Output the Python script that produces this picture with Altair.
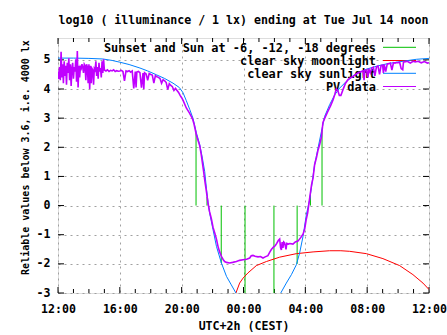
import altair as alt
import pandas as pd

FONT = "DejaVu Sans Mono"
FS = 11.6

title_text = "log10 ( illuminance / 1 lx) ending at Tue Jul 14 noon"
x_title = "UTC+2h (CEST)"
y_title = "Reliable values below 3.6, i.e. 4000 lx"

legend_labels = ["Sunset and Sun at -6, -12, -18 degrees", "clear sky moonlight",
                 "clear sky sunlight", "PV data"]
legend_colors = ["#00c000", "#ff0000", "#0080ff", "#c000ff"]

x_major = [12, 16, 20, 24, 28, 32, 36]
x_minor = [13, 14, 15, 17, 18, 19, 21, 22, 23, 25, 26, 27, 29, 30, 31, 33, 34, 35]
y_major = [-3, -2, -1, 0, 1, 2, 3, 4, 5]

# sunset and sun at -6, -12, -18 degrees (impulses from 0 to clear-sky value)
green_hours = [20.93, 21.64, 22.56, 24.10, 25.97, 27.47, 28.33, 29.08]
green_tops = [2.50, 0.30, -1.97, -3.0, -3.0, -2.0, 0.37, 2.60]

# clear sky sunlight, evening branch
sun_eve_h = [12.0, 13.0, 14.0, 14.9, 15.5, 16.0, 16.6, 17.3, 17.8, 18.36,
             18.9, 19.44, 19.85, 20.08, 20.3, 20.52, 20.73, 20.95, 21.17, 21.34,
             21.49, 21.6, 21.7, 21.81, 22.03, 22.25, 22.57, 22.9, 23.21, 23.51]
sun_eve_v = [5.06, 5.06, 5.05, 5.03, 4.98, 4.92, 4.84, 4.72, 4.62, 4.49,
             4.36, 4.20, 4.05, 3.88, 3.60, 3.30, 3.00, 2.50, 2.09, 1.63,
             1.17, 0.60, 0.14, -0.26, -0.83, -1.40, -1.97, -2.43, -2.72, -3.0]
# clear sky sunlight, morning branch
sun_mor_h = [26.41, 26.77, 27.1, 27.42, 27.63, 27.85, 28.07, 28.28, 28.39, 28.6,
             28.82, 29.04, 29.25, 29.57, 29.9, 30.22, 30.65, 31.3, 31.95, 32.6,
             33.24, 33.9, 34.54, 35.2, 36.0]
sun_mor_v = [-3.0, -2.66, -2.37, -2.03, -1.63, -1.06, -0.30, 0.20, 0.60, 1.40,
             1.97, 2.54, 3.06, 3.46, 3.80, 4.03, 4.26, 4.52, 4.68, 4.78,
             4.86, 4.92, 4.97, 5.02, 5.05]

# clear sky moonlight
moon_h = [23.51, 23.75, 23.97, 24.29, 24.83, 25.48, 26.34, 27.42, 28.5, 29.57,
          30.3, 30.87, 31.95, 33.02, 34.1, 34.96, 35.61, 36.0]
moon_v = [-3.0, -2.66, -2.49, -2.31, -2.06, -1.92, -1.77, -1.65, -1.59, -1.55,
          -1.55, -1.57, -1.65, -1.82, -2.06, -2.37, -2.66, -2.88]

# PV data
pv_h = [12.00, 12.05, 12.10, 12.15, 12.20, 12.25, 12.30, 12.35, 12.40, 12.45,
        12.50, 12.55, 12.60, 12.65, 12.70, 12.75, 12.80, 12.85, 12.90, 12.95,
        13.00, 13.05, 13.10, 13.15, 13.20, 13.25, 13.30, 13.35, 13.40, 13.45,
        13.50, 13.55, 13.60, 13.65, 13.70, 13.75, 13.80, 13.85, 13.90, 13.95,
        14.00, 14.05, 14.10, 14.15, 14.20, 14.25, 14.30, 14.35, 14.40, 14.45,
        14.50, 14.55, 14.60, 14.65, 14.70, 14.75, 14.80, 14.85, 14.90, 14.95,
        15.00,
        15.1, 15.2, 15.3, 15.4, 15.5, 15.6, 15.7, 15.8, 15.9, 16.0,
        16.1, 16.2, 16.3, 16.4, 16.5, 16.6, 16.7, 16.8, 16.9, 17.0,
        17.05, 17.1, 17.2, 17.3, 17.4, 17.5, 17.55, 17.6, 17.7, 17.8,
        17.9, 18.0, 18.1, 18.2, 18.3, 18.4, 18.5, 18.6, 18.7, 18.8,
        18.9, 19.0, 19.1, 19.2, 19.3, 19.4, 19.5, 19.6, 19.7, 19.8,
        19.9, 20.0,
        20.1, 20.3, 20.5, 20.7, 20.8, 20.95, 21.05, 21.17, 21.27, 21.42,
        21.5, 21.6, 21.7, 21.8, 21.92, 22.03, 22.14, 22.25, 22.35, 22.45,
        22.57, 22.68, 22.78, 22.9, 23.1, 23.3, 23.54, 23.75, 23.97, 24.2,
        24.4, 24.5, 24.61, 24.75, 24.94, 25.1, 25.26, 25.4, 25.58, 25.7,
        25.8, 25.95, 26.05, 26.15, 26.25, 26.34, 26.4, 26.45, 26.5, 26.55,
        26.6, 26.66, 26.75, 26.8, 26.9, 27.0, 27.2, 27.35, 27.52, 27.7,
        27.85, 27.96, 28.05, 28.15, 28.28, 28.4, 28.5, 28.6, 28.72, 28.82,
        28.93, 29.04, 29.14, 29.3, 29.47, 29.63, 29.79, 29.9, 30.0, 30.1,
        30.2, 30.3, 30.43, 30.6, 30.76, 30.9, 31.08, 31.25, 31.4, 31.55,
        31.73, 31.8, 31.85, 31.95, 32.05, 32.1, 32.2, 32.3, 32.4, 32.5,
        32.6, 32.7, 32.8, 32.9, 33.0, 33.05, 33.1, 33.2, 33.3, 33.4,
        33.5, 33.6, 33.7, 33.8, 33.9, 34.0, 34.1, 34.2, 34.3, 34.35,
        34.5, 34.6, 34.7, 34.8, 34.9, 35.0, 35.1, 35.3, 35.5, 35.7,
        35.9, 36.0]
pv_v = [4.60, 4.35, 4.75, 4.30, 5.28, 4.40, 4.85, 4.20, 4.95, 4.45,
        4.80, 4.15, 4.90, 4.55, 5.05, 4.30, 4.85, 4.10, 4.70, 4.90,
        4.35, 4.75, 4.60, 5.02, 4.25, 5.30, 4.05, 4.80, 4.40, 4.75,
        4.70, 4.85, 4.75, 4.55, 4.85, 4.80, 4.30, 4.85, 4.75, 4.20,
        4.85, 4.00, 4.80, 4.20, 4.70, 4.65, 4.15, 4.70, 4.65, 4.95,
        4.45, 4.75, 4.35, 4.90, 4.60, 4.72, 4.40, 4.95, 4.55, 5.02,
        4.65,
        4.62, 4.66, 4.60, 4.64, 4.62, 4.66, 4.60, 4.63, 4.61, 4.62,
        4.64, 4.60, 4.28, 4.62, 4.60, 4.63, 4.58, 4.62, 4.02, 4.60,
        4.05, 4.58, 4.60, 4.56, 4.05, 4.55, 4.00, 4.56, 4.52, 4.30,
        4.53, 4.50, 4.48, 4.20, 4.46, 4.42, 4.40, 4.36, 4.20, 4.32,
        4.28, 4.22, 3.98, 4.18, 4.12, 4.08, 3.95, 4.02, 3.95, 3.88,
        3.78, 3.70,
        3.60, 3.35, 3.18, 2.98, 2.80, 2.43, 2.25, 2.05, 1.74, 1.17,
        0.85, 0.49, 0.10, -0.20, -0.45, -0.75, -0.94, -1.15, -1.40, -1.58,
        -1.74, -1.85, -1.92, -1.95, -1.97, -1.95, -1.92, -1.88, -1.86, -1.84,
        -1.80, -1.72, -1.71, -1.74, -1.76, -1.75, -1.80, -1.76, -1.72, -1.60,
        -1.51, -1.42, -1.38, -1.30, -1.20, -1.15, -1.45, -1.52, -1.25, -1.45,
        -1.25, -1.28, -1.50, -1.30, -1.32, -1.30, -1.32, -1.25, -1.22, -1.10,
        -0.98, -0.80, -0.50, -0.25, 0.26, 0.70, 0.95, 1.40, 1.65, 1.90,
        2.10, 2.35, 2.85, 3.05, 3.25, 3.42, 3.62, 3.80, 4.00, 3.95,
        3.78, 3.78, 3.97, 4.20, 4.32, 4.38, 4.43, 4.50, 4.55, 4.58,
        4.62, 4.30, 4.64, 4.66, 4.40, 4.70, 4.55, 4.72, 4.75, 4.45,
        4.76, 4.79, 4.50, 4.81, 4.82, 4.55, 4.84, 4.60, 4.86, 4.87,
        4.89, 4.65, 4.90, 4.89, 4.91, 4.90, 4.92, 4.70, 4.66, 4.93,
        4.94, 4.95, 4.92, 4.89, 4.93, 4.95, 4.93, 4.95, 4.90, 4.94,
        4.89, 4.90]

W, H = 371, 255

sun_df = pd.DataFrame({
    "h": sun_eve_h + sun_mor_h,
    "v": sun_eve_v + sun_mor_v,
    "seg": ["eve"] * len(sun_eve_h) + ["mor"] * len(sun_mor_h),
})
moon_df = pd.DataFrame({"h": moon_h, "v": moon_v})
pv_df = pd.DataFrame({"h": pv_h, "v": pv_v})
green_df = pd.DataFrame({"h": green_hours, "v": [0.0] * len(green_hours), "v2": green_tops})

x_axis = alt.Axis(
    values=x_major, grid=True, gridDash=[2, 4], gridColor="#a0a0a0", gridWidth=1,
    ticks=False, domain=False, labelFlush=False, labelOverlap=False,
    labelExpr="(datum.value % 24 < 10 ? '0' : '') + (datum.value % 24) + ':00'",
    labelFont=FONT, labelFontSize=FS, labelFontWeight="bold", labelColor="black",
    labelPadding=10, title=x_title, titleFont=FONT, titleFontSize=FS,
    titleFontWeight="bold", titleColor="black", titleY=33, titleBaseline="middle",
)
y_axis = alt.Axis(
    values=y_major, grid=True, gridDash=[2, 4], gridColor="#a0a0a0", gridWidth=1,
    ticks=False, domain=False, labelExpr="'' + datum.value",
    labelFont=FONT, labelFontSize=FS, labelFontWeight="bold", labelColor="black",
    labelPadding=8, title=y_title, titleFont=FONT, titleFontSize=10,
    titleFontWeight="bold", titleColor="black", titleAngle=270, titleX=-33,
    titleY=119, titleBaseline="middle", titleAlign="center",
)
xs = alt.Scale(domain=[12, 36], nice=False, zero=False)
ys = alt.Scale(domain=[-3, 5.75], nice=False, zero=False)
X = alt.X("h:Q", scale=xs, axis=x_axis)
Y = alt.Y("v:Q", scale=ys, axis=y_axis)

layers = []

# inward tick marks on all four borders
xmaj_df = pd.DataFrame({"h": x_major})
xmin_df = pd.DataFrame({"h": x_minor})
ytk_df = pd.DataFrame({"v": y_major})
for df, ln in [(xmaj_df, 6), (xmin_df, 4)]:
    layers.append(alt.Chart(df).mark_rule(color="black", strokeWidth=1).encode(
        x=X, y=alt.value(H), y2=alt.value(H - ln)))
    layers.append(alt.Chart(df).mark_rule(color="black", strokeWidth=1).encode(
        x=X, y=alt.value(0), y2=alt.value(ln)))
layers.append(alt.Chart(ytk_df).mark_rule(color="black", strokeWidth=1).encode(
    y=Y, x=alt.value(0), x2=alt.value(6)))
layers.append(alt.Chart(ytk_df).mark_rule(color="black", strokeWidth=1).encode(
    y=Y, x=alt.value(W), x2=alt.value(W - 6)))

# key (gnuplot style: text on the left, sample on the right)
row_y = [9.3, 22.5, 35.3, 48.5]
for lab, col, ry in zip(legend_labels, legend_colors, row_y):
    d = pd.DataFrame({"t": [lab]})
    layers.append(alt.Chart(d).mark_text(
        align="right", baseline="middle", font=FONT, fontSize=11.9,
        fontWeight="bold", color="black").encode(
        text="t:N", x=alt.value(318), y=alt.value(ry + 0.7)))
    layers.append(alt.Chart(d).mark_rule(color=col, strokeWidth=1).encode(
        x=alt.value(325), x2=alt.value(358), y=alt.value(ry)))

# data
layers.append(alt.Chart(green_df).mark_rule(color=legend_colors[0], strokeWidth=1, clip=True).encode(
    x=X, y=Y, y2="v2:Q"))
layers.append(alt.Chart(moon_df).mark_line(color=legend_colors[1], strokeWidth=1, clip=True).encode(
    x=X, y=Y))
layers.append(alt.Chart(sun_df).mark_line(color=legend_colors[2], strokeWidth=1, clip=True).encode(
    x=X, y=Y, detail="seg:N"))
layers.append(alt.Chart(pv_df).mark_line(color=legend_colors[3], strokeWidth=1.6, clip=True).encode(
    x=X, y=Y))

chart = alt.layer(*layers).properties(
    width=W, height=H,
    title=alt.TitleParams(title_text, anchor="middle", frame="group", font=FONT,
                          fontSize=FS, fontWeight="bold", color="black", offset=2,
                          baseline="alphabetic"),
    autosize=alt.AutoSizeParams(type="none"),
    padding={"left": 58, "top": 38, "right": 18, "bottom": 42},
).configure_view(stroke="black", strokeWidth=1).configure(background="white")

chart.save("out.html", embed_options={"renderer": "svg", "actions": False})
